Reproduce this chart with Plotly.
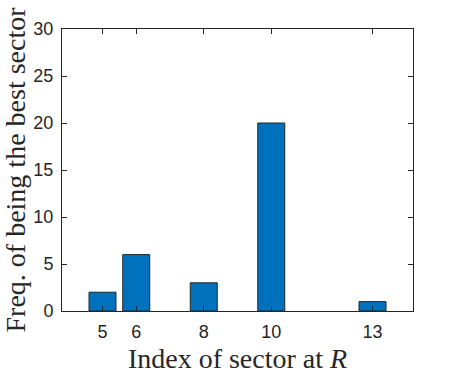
import plotly.graph_objects as go

sectors = [5, 6, 8, 10, 13]
freq = [2, 6, 3, 20, 1]
tick_vals = [5, 6, 8, 10, 13]
y_ticks = [0, 5, 10, 15, 20, 25, 30]

fig = go.Figure(go.Bar(
    x=sectors, y=freq, width=0.8,
    marker=dict(color="#0072BD", line=dict(color="#262626", width=1)),
))

axis_common = dict(
    showline=True, linecolor="#262626", linewidth=1, mirror="ticks",
    ticks="inside", ticklen=5, tickcolor="#262626", showgrid=False, zeroline=False,
    automargin=False, ticklabelstandoff=4,
    tickfont=dict(family="Liberation Sans, Arial", size=18, color="#262626"),
)

label_font = dict(family="Liberation Serif, Times New Roman", size=28, color="#262626")

fig.update_layout(
    width=457, height=374,
    margin=dict(l=62, r=44, t=29, b=63),
    plot_bgcolor="white", paper_bgcolor="white",
    showlegend=False,
    xaxis=dict(range=[3.8, 14.2], tickvals=tick_vals,
               title=dict(text="Index of sector at <i>R</i>", font=label_font),
               **axis_common),
    yaxis=dict(range=[0, 30], tickvals=y_ticks,
               title=dict(text="Freq. of being the best sector", font=label_font),
               **axis_common),
)

# drop the browser's default body margin so the figure sits at the page corner
fig.write_html("out.html", config={"displayModeBar": False},
               post_script="document.body.style.margin = '0';")
